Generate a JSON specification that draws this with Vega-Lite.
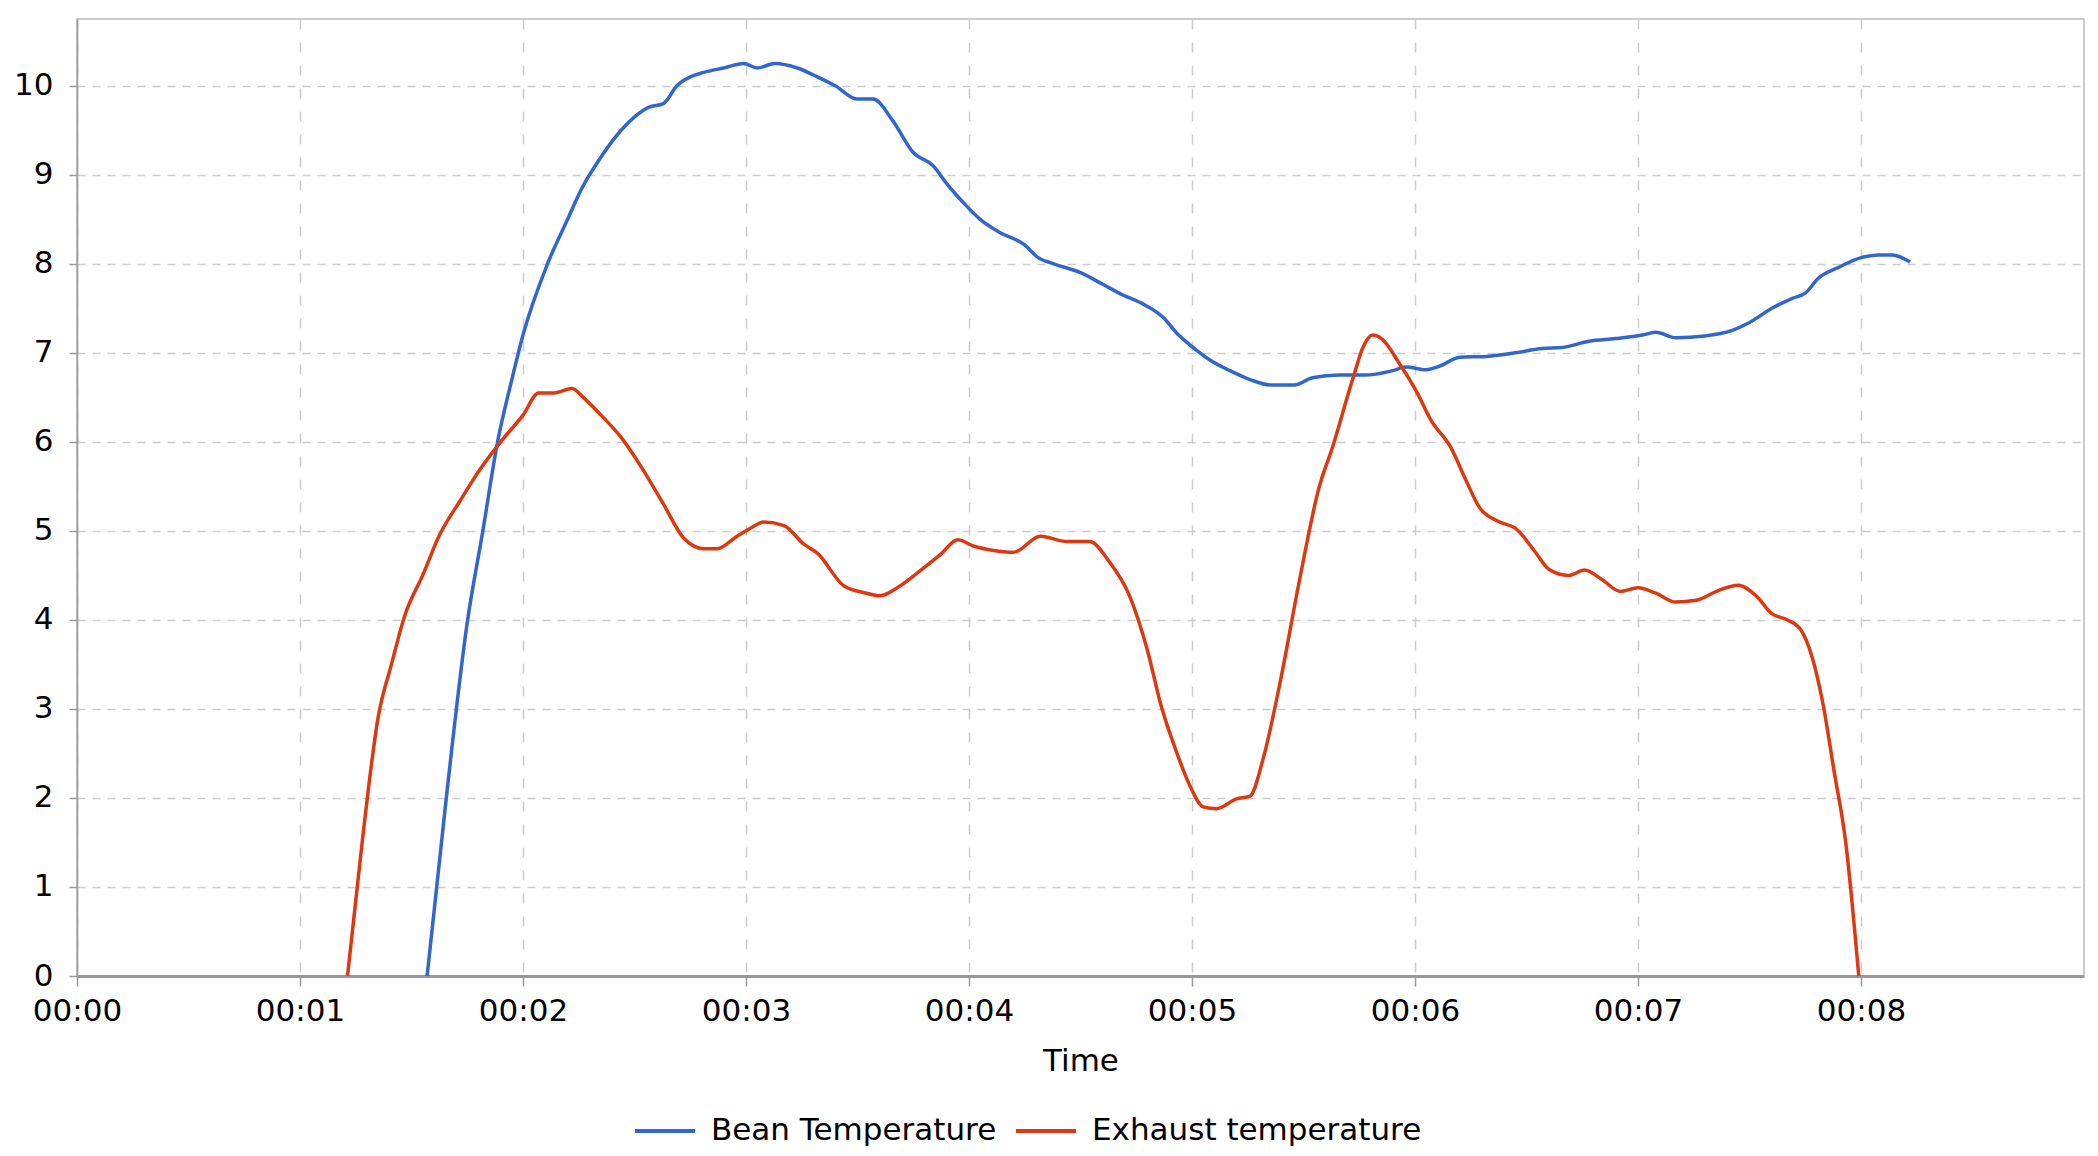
{
  "$schema": "https://vega.github.io/schema/vega-lite/v6.json",
  "width": 2007,
  "height": 957,
  "autosize": "none",
  "padding": {"left": 77, "top": 19, "right": 14, "bottom": 180},
  "background": "white",
  "data": {
    "values": [
      {"t": 1.57, "v": 0, "series": "Bean Temperature"},
      {"t": 1.656, "v": 2.0, "series": "Bean Temperature"},
      {"t": 1.75, "v": 3.97, "series": "Bean Temperature"},
      {"t": 1.82, "v": 5.0, "series": "Bean Temperature"},
      {"t": 1.886, "v": 6.0, "series": "Bean Temperature"},
      {"t": 1.95, "v": 6.7, "series": "Bean Temperature"},
      {"t": 2.0, "v": 7.2, "series": "Bean Temperature"},
      {"t": 2.11, "v": 8.0, "series": "Bean Temperature"},
      {"t": 2.2, "v": 8.5, "series": "Bean Temperature"},
      {"t": 2.26, "v": 8.83, "series": "Bean Temperature"},
      {"t": 2.35, "v": 9.2, "series": "Bean Temperature"},
      {"t": 2.44, "v": 9.5, "series": "Bean Temperature"},
      {"t": 2.565, "v": 9.76, "series": "Bean Temperature"},
      {"t": 2.63, "v": 9.8, "series": "Bean Temperature"},
      {"t": 2.69, "v": 10.0, "series": "Bean Temperature"},
      {"t": 2.75, "v": 10.1, "series": "Bean Temperature"},
      {"t": 2.81, "v": 10.15, "series": "Bean Temperature"},
      {"t": 2.9, "v": 10.2, "series": "Bean Temperature"},
      {"t": 2.99, "v": 10.25, "series": "Bean Temperature"},
      {"t": 3.05, "v": 10.2, "series": "Bean Temperature"},
      {"t": 3.13, "v": 10.25, "series": "Bean Temperature"},
      {"t": 3.23, "v": 10.2, "series": "Bean Temperature"},
      {"t": 3.32, "v": 10.1, "series": "Bean Temperature"},
      {"t": 3.4, "v": 10.0, "series": "Bean Temperature"},
      {"t": 3.5, "v": 9.85, "series": "Bean Temperature"},
      {"t": 3.57, "v": 9.85, "series": "Bean Temperature"},
      {"t": 3.66, "v": 9.6, "series": "Bean Temperature"},
      {"t": 3.75, "v": 9.25, "series": "Bean Temperature"},
      {"t": 3.84, "v": 9.1, "series": "Bean Temperature"},
      {"t": 3.9, "v": 8.9, "series": "Bean Temperature"},
      {"t": 3.97, "v": 8.7, "series": "Bean Temperature"},
      {"t": 4.05, "v": 8.5, "series": "Bean Temperature"},
      {"t": 4.14, "v": 8.35, "series": "Bean Temperature"},
      {"t": 4.245, "v": 8.22, "series": "Bean Temperature"},
      {"t": 4.31, "v": 8.07, "series": "Bean Temperature"},
      {"t": 4.38, "v": 8.0, "series": "Bean Temperature"},
      {"t": 4.5, "v": 7.9, "series": "Bean Temperature"},
      {"t": 4.6, "v": 7.77, "series": "Bean Temperature"},
      {"t": 4.69, "v": 7.65, "series": "Bean Temperature"},
      {"t": 4.78, "v": 7.55, "series": "Bean Temperature"},
      {"t": 4.87, "v": 7.4, "series": "Bean Temperature"},
      {"t": 4.94, "v": 7.2, "series": "Bean Temperature"},
      {"t": 5.0, "v": 7.07, "series": "Bean Temperature"},
      {"t": 5.08, "v": 6.92, "series": "Bean Temperature"},
      {"t": 5.17, "v": 6.8, "series": "Bean Temperature"},
      {"t": 5.26, "v": 6.7, "series": "Bean Temperature"},
      {"t": 5.35, "v": 6.64, "series": "Bean Temperature"},
      {"t": 5.46, "v": 6.64, "series": "Bean Temperature"},
      {"t": 5.54, "v": 6.72, "series": "Bean Temperature"},
      {"t": 5.66, "v": 6.75, "series": "Bean Temperature"},
      {"t": 5.78, "v": 6.75, "series": "Bean Temperature"},
      {"t": 5.9, "v": 6.8, "series": "Bean Temperature"},
      {"t": 5.96, "v": 6.84, "series": "Bean Temperature"},
      {"t": 6.05, "v": 6.81, "series": "Bean Temperature"},
      {"t": 6.11, "v": 6.85, "series": "Bean Temperature"},
      {"t": 6.2, "v": 6.95, "series": "Bean Temperature"},
      {"t": 6.32, "v": 6.96, "series": "Bean Temperature"},
      {"t": 6.45, "v": 7.0, "series": "Bean Temperature"},
      {"t": 6.57, "v": 7.05, "series": "Bean Temperature"},
      {"t": 6.66, "v": 7.06, "series": "Bean Temperature"},
      {"t": 6.78, "v": 7.13, "series": "Bean Temperature"},
      {"t": 6.9, "v": 7.16, "series": "Bean Temperature"},
      {"t": 7.02, "v": 7.2, "series": "Bean Temperature"},
      {"t": 7.08, "v": 7.23, "series": "Bean Temperature"},
      {"t": 7.17, "v": 7.17, "series": "Bean Temperature"},
      {"t": 7.3, "v": 7.19, "series": "Bean Temperature"},
      {"t": 7.42, "v": 7.25, "series": "Bean Temperature"},
      {"t": 7.5, "v": 7.34, "series": "Bean Temperature"},
      {"t": 7.6, "v": 7.5, "series": "Bean Temperature"},
      {"t": 7.69, "v": 7.61, "series": "Bean Temperature"},
      {"t": 7.75, "v": 7.67, "series": "Bean Temperature"},
      {"t": 7.81, "v": 7.84, "series": "Bean Temperature"},
      {"t": 7.9, "v": 7.96, "series": "Bean Temperature"},
      {"t": 8.0, "v": 8.07, "series": "Bean Temperature"},
      {"t": 8.08, "v": 8.1, "series": "Bean Temperature"},
      {"t": 8.14, "v": 8.1, "series": "Bean Temperature"},
      {"t": 8.22, "v": 8.02, "series": "Bean Temperature"},
      {"t": 1.213, "v": 0, "series": "Exhaust temperature"},
      {"t": 1.28, "v": 1.53, "series": "Exhaust temperature"},
      {"t": 1.35, "v": 2.9, "series": "Exhaust temperature"},
      {"t": 1.41, "v": 3.5, "series": "Exhaust temperature"},
      {"t": 1.47, "v": 4.05, "series": "Exhaust temperature"},
      {"t": 1.55, "v": 4.5, "series": "Exhaust temperature"},
      {"t": 1.625, "v": 4.95, "series": "Exhaust temperature"},
      {"t": 1.716, "v": 5.33, "series": "Exhaust temperature"},
      {"t": 1.81, "v": 5.7, "series": "Exhaust temperature"},
      {"t": 1.9, "v": 6.0, "series": "Exhaust temperature"},
      {"t": 2.0, "v": 6.3, "series": "Exhaust temperature"},
      {"t": 2.07, "v": 6.55, "series": "Exhaust temperature"},
      {"t": 2.14, "v": 6.55, "series": "Exhaust temperature"},
      {"t": 2.22, "v": 6.6, "series": "Exhaust temperature"},
      {"t": 2.27, "v": 6.5, "series": "Exhaust temperature"},
      {"t": 2.35, "v": 6.3, "series": "Exhaust temperature"},
      {"t": 2.44, "v": 6.05, "series": "Exhaust temperature"},
      {"t": 2.535, "v": 5.7, "series": "Exhaust temperature"},
      {"t": 2.63, "v": 5.3, "series": "Exhaust temperature"},
      {"t": 2.72, "v": 4.92, "series": "Exhaust temperature"},
      {"t": 2.81, "v": 4.8, "series": "Exhaust temperature"},
      {"t": 2.87, "v": 4.8, "series": "Exhaust temperature"},
      {"t": 2.96, "v": 4.94, "series": "Exhaust temperature"},
      {"t": 3.02, "v": 5.03, "series": "Exhaust temperature"},
      {"t": 3.08, "v": 5.1, "series": "Exhaust temperature"},
      {"t": 3.17, "v": 5.06, "series": "Exhaust temperature"},
      {"t": 3.26, "v": 4.85, "series": "Exhaust temperature"},
      {"t": 3.32, "v": 4.75, "series": "Exhaust temperature"},
      {"t": 3.44, "v": 4.38, "series": "Exhaust temperature"},
      {"t": 3.54, "v": 4.3, "series": "Exhaust temperature"},
      {"t": 3.6, "v": 4.27, "series": "Exhaust temperature"},
      {"t": 3.69, "v": 4.38, "series": "Exhaust temperature"},
      {"t": 3.78, "v": 4.55, "series": "Exhaust temperature"},
      {"t": 3.87, "v": 4.73, "series": "Exhaust temperature"},
      {"t": 3.95, "v": 4.9, "series": "Exhaust temperature"},
      {"t": 4.02, "v": 4.83, "series": "Exhaust temperature"},
      {"t": 4.11, "v": 4.78, "series": "Exhaust temperature"},
      {"t": 4.2, "v": 4.76, "series": "Exhaust temperature"},
      {"t": 4.32, "v": 4.94, "series": "Exhaust temperature"},
      {"t": 4.44, "v": 4.88, "series": "Exhaust temperature"},
      {"t": 4.54, "v": 4.88, "series": "Exhaust temperature"},
      {"t": 4.63, "v": 4.65, "series": "Exhaust temperature"},
      {"t": 4.72, "v": 4.27, "series": "Exhaust temperature"},
      {"t": 4.8, "v": 3.66, "series": "Exhaust temperature"},
      {"t": 4.86, "v": 3.05, "series": "Exhaust temperature"},
      {"t": 4.93, "v": 2.52, "series": "Exhaust temperature"},
      {"t": 4.99, "v": 2.14, "series": "Exhaust temperature"},
      {"t": 5.05, "v": 1.9, "series": "Exhaust temperature"},
      {"t": 5.11, "v": 1.88, "series": "Exhaust temperature"},
      {"t": 5.2, "v": 1.99, "series": "Exhaust temperature"},
      {"t": 5.26, "v": 2.02, "series": "Exhaust temperature"},
      {"t": 5.32, "v": 2.45, "series": "Exhaust temperature"},
      {"t": 5.4, "v": 3.36, "series": "Exhaust temperature"},
      {"t": 5.48, "v": 4.42, "series": "Exhaust temperature"},
      {"t": 5.57, "v": 5.49, "series": "Exhaust temperature"},
      {"t": 5.63, "v": 5.94, "series": "Exhaust temperature"},
      {"t": 5.72, "v": 6.7, "series": "Exhaust temperature"},
      {"t": 5.77, "v": 7.08, "series": "Exhaust temperature"},
      {"t": 5.81, "v": 7.2, "series": "Exhaust temperature"},
      {"t": 5.85, "v": 7.16, "series": "Exhaust temperature"},
      {"t": 5.93, "v": 6.88, "series": "Exhaust temperature"},
      {"t": 6.01, "v": 6.55, "series": "Exhaust temperature"},
      {"t": 6.07, "v": 6.25, "series": "Exhaust temperature"},
      {"t": 6.16, "v": 5.94, "series": "Exhaust temperature"},
      {"t": 6.23, "v": 5.56, "series": "Exhaust temperature"},
      {"t": 6.29, "v": 5.26, "series": "Exhaust temperature"},
      {"t": 6.38, "v": 5.1, "series": "Exhaust temperature"},
      {"t": 6.45, "v": 5.03, "series": "Exhaust temperature"},
      {"t": 6.54, "v": 4.76, "series": "Exhaust temperature"},
      {"t": 6.6, "v": 4.57, "series": "Exhaust temperature"},
      {"t": 6.69, "v": 4.5, "series": "Exhaust temperature"},
      {"t": 6.76, "v": 4.56, "series": "Exhaust temperature"},
      {"t": 6.84, "v": 4.45, "series": "Exhaust temperature"},
      {"t": 6.92, "v": 4.32, "series": "Exhaust temperature"},
      {"t": 7.0, "v": 4.36, "series": "Exhaust temperature"},
      {"t": 7.08, "v": 4.3, "series": "Exhaust temperature"},
      {"t": 7.17, "v": 4.2, "series": "Exhaust temperature"},
      {"t": 7.26, "v": 4.22, "series": "Exhaust temperature"},
      {"t": 7.36, "v": 4.33, "series": "Exhaust temperature"},
      {"t": 7.45, "v": 4.39, "series": "Exhaust temperature"},
      {"t": 7.53, "v": 4.27, "series": "Exhaust temperature"},
      {"t": 7.6, "v": 4.07, "series": "Exhaust temperature"},
      {"t": 7.67, "v": 4.0, "series": "Exhaust temperature"},
      {"t": 7.73, "v": 3.89, "series": "Exhaust temperature"},
      {"t": 7.78, "v": 3.59, "series": "Exhaust temperature"},
      {"t": 7.83, "v": 3.05, "series": "Exhaust temperature"},
      {"t": 7.88, "v": 2.29, "series": "Exhaust temperature"},
      {"t": 7.93, "v": 1.53, "series": "Exhaust temperature"},
      {"t": 7.99, "v": 0, "series": "Exhaust temperature"}
    ]
  },
  "mark": {"type": "line", "strokeWidth": 3.5, "interpolate": "monotone"},
  "encoding": {
    "x": {
      "field": "t",
      "type": "quantitative",
      "title": "Time",
      "scale": {"domain": [0, 9], "nice": false, "zero": false},
      "axis": {
        "values": [0, 1, 2, 3, 4, 5, 6, 7, 8],
        "labelExpr": "'00:0' + datum.value",
        "labelFlush": false,
        "labelOverlap": false,
        "gridDash": [10, 13],
        "domainColor": "#999999",
        "domainWidth": 3,
        "tickColor": "#999999",
        "tickSize": 10,
        "tickWidth": 1.5,
        "labelPadding": 10,
        "titlePadding": 20
      }
    },
    "y": {
      "field": "v",
      "type": "quantitative",
      "title": null,
      "scale": {"domain": [0, 10.75], "nice": false},
      "axis": {
        "values": [0, 1, 2, 3, 4, 5, 6, 7, 8, 9, 10],
        "labelFlush": false,
        "gridDash": [8, 7],
        "domainColor": "#999999",
        "domainWidth": 1.5,
        "tickColor": "#999999",
        "tickSize": 8,
        "tickWidth": 1.5,
        "labelPadding": 16
      }
    },
    "color": {
      "field": "series",
      "type": "nominal",
      "title": null,
      "scale": {
        "domain": ["Bean Temperature", "Exhaust temperature"],
        "range": ["#3366cc", "#dc3912"]
      },
      "legend": {
        "orient": "none",
        "direction": "horizontal",
        "legendX": 556,
        "legendY": 1080,
        "symbolType": "stroke",
        "symbolSize": 3600,
        "symbolStrokeWidth": 4,
        "labelOffset": 14,
        "columnPadding": 11
      }
    }
  },
  "config": {
    "font": "DejaVu Sans",
    "view": {"stroke": "#bbbbbb", "strokeWidth": 1.5},
    "axis": {
      "labelFont": "DejaVu Sans",
      "labelFontSize": 31,
      "labelColor": "#000000",
      "titleFont": "DejaVu Sans",
      "titleFontSize": 31,
      "titleFontWeight": "normal",
      "titleColor": "#000000",
      "gridColor": "#cccccc",
      "gridWidth": 1.5
    },
    "legend": {
      "labelFont": "DejaVu Sans",
      "labelFontSize": 31,
      "labelColor": "#000000",
      "labelLimit": 500
    }
  }
}
